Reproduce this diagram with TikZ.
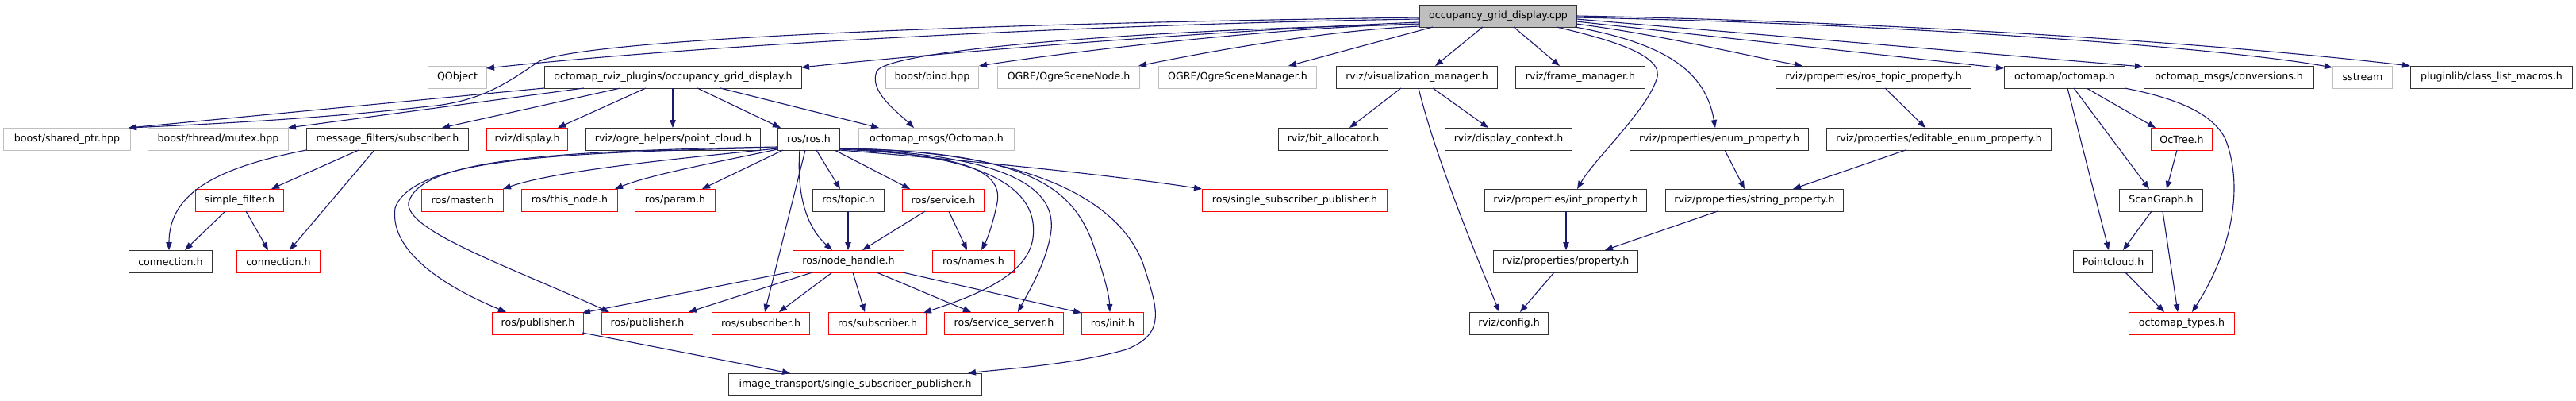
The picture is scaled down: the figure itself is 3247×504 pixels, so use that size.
\documentclass[tikz,border=0pt]{standalone}
\usepackage{fontspec}
\setmainfont{DejaVu Sans}
\usetikzlibrary{arrows.meta,calc}
\definecolor{navy}{HTML}{191970}
\begin{document}
\begin{tikzpicture}[x=1pt,y=-1pt,
  box/.style={draw, rectangle, inner sep=0pt, minimum height=28pt, anchor=north west,
              font=\fontsize{12.6}{15}\selectfont, line width=1pt},
  bk/.style={box, draw=black!80},
  gy/.style={box, draw=black!25},
  rd/.style={box, draw=red},
  rt/.style={box, draw=black!80, fill=black!25},
  e/.style={draw=navy, line width=1.1pt, -{Triangle[length=10pt,width=7.5pt]}}]
\useasboundingbox (0,0) rectangle (3247,504);
% root
\node[rt,minimum width=198pt] (cpp) at (1789,6) {occupancy\_grid\_display.cpp};
% row 2
\node[gy,minimum width=74pt] (qobj) at (539,83) {QObject};
\node[bk,minimum width=324pt] (occ) at (686,83) {octomap\_rviz\_plugins/occupancy\_grid\_display.h};
\node[gy,minimum width=117pt] (bind) at (1116,83) {boost/bind.hpp};
\node[gy,minimum width=179pt] (ogrenode) at (1257,83) {OGRE/OgreSceneNode.h};
\node[gy,minimum width=199pt] (ogremgr) at (1460,83) {OGRE/OgreSceneManager.h};
\node[bk,minimum width=203pt] (vizman) at (1684,83) {rviz/visualization\_manager.h};
\node[bk,minimum width=163pt] (frameman) at (1910,83) {rviz/frame\_manager.h};
\node[bk,minimum width=246pt] (rostopic) at (2238,83) {rviz/properties/ros\_topic\_property.h};
\node[bk,minimum width=152pt] (octomap) at (2526,83) {octomap/octomap.h};
\node[bk,minimum width=214pt] (conv) at (2702,83) {octomap\_msgs/conversions.h};
\node[gy,minimum width=75pt] (sstream) at (2940,83) {sstream};
\node[bk,minimum width=204pt] (pluginlib) at (3038,83) {pluginlib/class\_list\_macros.h};
% row 3
\node[gy,minimum width=160pt] (shptr) at (4,161) {boost/shared\_ptr.hpp};
\node[gy,minimum width=177pt] (mutex) at (186,161) {boost/thread/mutex.hpp};
\node[bk,minimum width=204pt] (mfsub) at (386,161) {message\_filters/subscriber.h};
\node[rd,minimum width=102pt] (display) at (613,161) {rviz/display.h};
\node[bk,minimum width=220pt] (ptcloud) at (738,161) {rviz/ogre\_helpers/point\_cloud.h};
\node[bk,minimum width=78pt] (ros) at (980,161) {ros/ros.h};
\node[gy,minimum width=196pt] (octmsg) at (1082,161) {octomap\_msgs/Octomap.h};
\node[bk,minimum width=138pt] (bitalloc) at (1611,161) {rviz/bit\_allocator.h};
\node[bk,minimum width=160pt] (dispctx) at (1821,161) {rviz/display\_context.h};
\node[bk,minimum width=225pt] (enumprop) at (2054,161) {rviz/properties/enum\_property.h};
\node[bk,minimum width=283pt] (editenum) at (2302,161) {rviz/properties/editable\_enum\_property.h};
\node[rd,minimum width=77pt] (octree) at (2711,161) {OcTree.h};
% row 4
\node[rd,minimum width=111pt] (sfilter) at (246,238) {simple\_filter.h};
\node[rd,minimum width=103pt] (master) at (531,238) {ros/master.h};
\node[rd,minimum width=121pt] (thisnode) at (657,238) {ros/this\_node.h};
\node[rd,minimum width=101pt] (param) at (800,238) {ros/param.h};
\node[bk,minimum width=90pt] (topic) at (1024,238) {ros/topic.h};
\node[rd,minimum width=103pt] (service) at (1137,238) {ros/service.h};
\node[rd,minimum width=233pt] (rosssp) at (1515,238) {ros/single\_subscriber\_publisher.h};
\node[bk,minimum width=204pt] (intprop) at (1871,238) {rviz/properties/int\_property.h};
\node[bk,minimum width=224pt] (strprop) at (2099,238) {rviz/properties/string\_property.h};
\node[bk,minimum width=105pt] (scangraph) at (2671,238) {ScanGraph.h};
% row 5
\node[bk,minimum width=105pt] (connb) at (162,315) {connection.h};
\node[rd,minimum width=105pt] (connr) at (298,315) {connection.h};
\node[rd,minimum width=140pt] (nh) at (999,315) {ros/node\_handle.h};
\node[rd,minimum width=103pt] (names) at (1175,315) {ros/names.h};
\node[bk,minimum width=182pt] (property) at (1882,315) {rviz/properties/property.h};
\node[bk,minimum width=100pt] (pcloud) at (2613,315) {Pointcloud.h};
% row 6
\node[rd,minimum width=115pt] (pub1) at (620,393) {ros/publisher.h};
\node[rd,minimum width=115pt] (pub2) at (758,393) {ros/publisher.h};
\node[rd,minimum width=123pt] (sub1) at (897,393) {ros/subscriber.h};
\node[rd,minimum width=123pt] (sub2) at (1044,393) {ros/subscriber.h};
\node[rd,minimum width=150pt] (svcsrv) at (1190,393) {ros/service\_server.h};
\node[rd,minimum width=78pt] (init) at (1363,393) {ros/init.h};
\node[bk,minimum width=99pt] (config) at (1852,393) {rviz/config.h};
\node[rd,minimum width=133pt] (octtypes) at (2683,393) {octomap\_types.h};
% row 7
\node[bk,minimum width=319pt] (itssp) at (918,470) {image\_transport/single\_subscriber\_publisher.h};

% ---- edges from root
\draw[e] ($(cpp.north west)+(0,18)$) .. controls (1400,30) and (900,55) .. ($(qobj.north west)+(74,3)$);
\draw[e] ($(cpp.north west)+(0,22)$) .. controls (1500,40) and (1150,70) .. ($(occ.north west)+(324,2)$);
\draw[e] ($(cpp.north west)+(0,16)$) .. controls (1200,30) and (740,50) .. (680,77) .. controls (645,100) and (610,128) .. (540,134) .. controls (400,150) and (250,157) .. ($(shptr.north west)+(158,0)$);
\draw[e] ($(cpp.north west)+(0,25)$) .. controls (1500,35) and (1120,60) .. (1105,90) .. controls (1095,115) and (1130,140) .. ($(octmsg.north west)+(70,0)$);
\draw[e] ($(cpp.north west)+(0,24)$) .. controls (1600,35) and (1350,65) .. ($(bind.north west)+(118,0)$);
\draw[e] ($(cpp.north west)+(0,27)$) .. controls (1650,40) and (1500,70) .. ($(ogrenode.north west)+(178,0)$);
\draw[e] ($(cpp.north west)+(17,28)$) -- ($(ogremgr.north west)+(164,0)$);
\draw[e] ($(cpp.north west)+(80,28)$) -- ($(vizman.north west)+(125,0)$);
\draw[e] ($(cpp.north west)+(119,28)$) -- ($(frameman.north west)+(56,0)$);
\draw[e] ($(cpp.north west)+(173,28)$) .. controls (2030,50) and (2100,70) .. (2088,100) .. controls (2075,140) and (2010,200) .. ($(intprop.north west)+(117,0)$);
\draw[e] ($(cpp.north west)+(196,28)$) .. controls (2100,55) and (2150,90) .. ($(enumprop.north west)+(108,0)$);
\draw[e] ($(cpp.north west)+(198,24)$) .. controls (2100,45) and (2200,70) .. ($(rostopic.north west)+(34,0)$);
\draw[e] ($(cpp.north west)+(198,21)$) -- ($(octomap.north west)+(0,3)$);
\draw[e] ($(cpp.north west)+(198,18)$) -- ($(conv.north west)+(-1,1)$);
\draw[e] ($(cpp.north west)+(198,16)$) .. controls (2400,30) and (2800,60) .. ($(sstream.north west)+(0,2)$);
\draw[e] ($(cpp.north west)+(198,14)$) .. controls (2400,28) and (2800,55) .. ($(pluginlib.north west)+(0,0)$);

% ---- edges from occupancy_grid_display.h
\draw[e] ($(occ.north west)+(0,28)$) -- ($(shptr.north west)+(158,0)$);
\draw[e] ($(occ.north west)+(50,28)$) -- ($(mutex.north west)+(177,0)$);
\draw[e] ($(occ.north west)+(96,28)$) -- ($(mfsub.north west)+(171,0)$);
\draw[e] ($(occ.north west)+(128,28)$) -- ($(display.north west)+(90,0)$);
\draw[e] ($(occ.north west)+(162,28)$) -- ($(ptcloud.north west)+(110,0)$);
\draw[e] ($(occ.north west)+(193,28)$) -- ($(ros.north west)+(4,0)$);
\draw[e] ($(occ.north west)+(222,28)$) -- ($(octmsg.north west)+(26,0)$);

% ---- message_filters
\draw[e] ($(mfsub.north west)+(66,28)$) -- ($(sfilter.north west)+(96,0)$);
\draw[e] ($(mfsub.north west)+(86,28)$) -- ($(connr.north west)+(67,0)$);
\draw[e] ($(mfsub.north west)+(0,28)$) .. controls (280,210) and (213,240) .. ($(connb.north west)+(51,0)$);
\draw[e] ($(sfilter.north west)+(38,28)$) -- ($(connb.north west)+(71,0)$);
\draw[e] ($(sfilter.north west)+(64,28)$) -- ($(connr.north west)+(40,0)$);

% ---- ros/ros.h
\draw[e] ($(ros.north west)+(0,26)$) .. controls (850,200) and (700,215) .. ($(master.north west)+(103,0)$);
\draw[e] ($(ros.north west)+(0,27)$) .. controls (900,205) and (820,220) .. ($(thisnode.north west)+(118,0)$);
\draw[e] ($(ros.north west)+(7,28)$) -- ($(param.north west)+(85,0)$);
\draw[e] ($(ros.north west)+(49,28)$) -- ($(topic.north west)+(35,0)$);
\draw[e] ($(ros.north west)+(28,28)$) .. controls (1005,230) and (1010,280) .. ($(nh.north west)+(50,0)$);
\draw[e] ($(ros.north west)+(35,28)$) -- ($(sub1.north west)+(67,0)$);
\draw[e] ($(ros.north west)+(72,28)$) -- ($(service.north west)+(10,0)$);
\draw[e] ($(ros.north west)+(0,25)$) .. controls (700,192) and (520,200) .. (498,262) .. controls (490,320) and (570,365) .. ($(pub1.north west)+(18,0)$);
\draw[e] ($(ros.north west)+(0,24)$) .. controls (700,190) and (530,200) .. (515,255) .. controls (510,290) and (640,335) .. ($(pub2.north west)+(10,0)$);
\draw[e] ($(ros.north west)+(78,27)$) .. controls (1200,195) and (1265,210) .. (1257,255) .. controls (1252,280) and (1245,300) .. ($(names.north west)+(62,0)$);
\draw[e] ($(ros.north west)+(78,26)$) .. controls (1250,195) and (1310,240) .. (1302,300) .. controls (1295,350) and (1220,375) .. ($(sub2.north west)+(120,1)$);
\draw[e] ($(ros.north west)+(78,26)$) .. controls (1280,195) and (1330,240) .. (1325,290) .. controls (1320,330) and (1295,370) .. ($(svcsrv.north west)+(93,0)$);
\draw[e] ($(ros.north west)+(78,26)$) .. controls (1300,190) and (1350,240) .. (1375,300) .. controls (1390,340) and (1398,370) .. ($(init.north west)+(36,0)$);
\draw[e] ($(ros.north west)+(78,26)$) .. controls (1350,190) and (1420,280) .. (1440,330) .. controls (1460,390) and (1470,420) .. (1420,440) .. controls (1350,460) and (1260,465) .. ($(itssp.north west)+(302,0)$);
\draw[e] ($(ros.north west)+(78,28)$) .. controls (1200,200) and (1400,220) .. ($(rosssp.north west)+(0,0)$);

\draw[e] ($(topic.north west)+(45,28)$) -- ($(nh.north west)+(70,0)$);
\draw[e] ($(service.north west)+(29,28)$) -- ($(nh.north west)+(88,0)$);
\draw[e] ($(service.north west)+(59,28)$) -- ($(names.north west)+(44,0)$);

% ---- node_handle
\draw[e] ($(nh.north west)+(0,27)$) -- ($(pub1.north west)+(114,1)$);
\draw[e] ($(nh.north west)+(25,28)$) -- ($(pub2.north west)+(110,0)$);
\draw[e] ($(nh.north west)+(50,28)$) -- ($(sub1.north west)+(85,0)$);
\draw[e] ($(nh.north west)+(76,28)$) -- ($(sub2.north west)+(46,0)$);
\draw[e] ($(nh.north west)+(106,28)$) -- ($(svcsrv.north west)+(34,0)$);
\draw[e] ($(nh.north west)+(139,28)$) -- ($(init.north west)+(0,1)$);
\draw[e] ($(pub1.north west)+(114,26)$) -- ($(itssp.north west)+(78,0)$);

% ---- rviz
\draw[e] ($(vizman.north west)+(82,28)$) -- ($(bitalloc.north west)+(90,0)$);
\draw[e] ($(vizman.north west)+(122,28)$) -- ($(dispctx.north west)+(55,0)$);
\draw[e] ($(vizman.north west)+(104,28)$) .. controls (1810,200) and (1860,320) .. ($(config.north west)+(38,0)$);
\draw[e] ($(intprop.north west)+(103,28)$) -- ($(property.north west)+(92,0)$);
\draw[e] ($(strprop.north west)+(66,28)$) -- ($(property.north west)+(141,0)$);
\draw[e] ($(property.north west)+(77,28)$) -- ($(config.north west)+(64,0)$);
\draw[e] ($(enumprop.north west)+(120,28)$) -- ($(strprop.north west)+(100,0)$);
\draw[e] ($(editenum.north west)+(100,28)$) -- ($(strprop.north west)+(161,0)$);
\draw[e] ($(rostopic.north west)+(138,28)$) -- ($(editenum.north west)+(125,0)$);

% ---- octomap
\draw[e] ($(octomap.north west)+(104,28)$) -- ($(octree.north west)+(6,0)$);
\draw[e] ($(octomap.north west)+(88,28)$) -- ($(scangraph.north west)+(38,0)$);
\draw[e] ($(octomap.north west)+(80,28)$) -- ($(pcloud.north west)+(45,0)$);
\draw[e] ($(octomap.north west)+(152,28)$) .. controls (2750,125) and (2790,145) .. (2805,175) .. controls (2830,240) and (2810,320) .. ($(octtypes.north west)+(80,0)$);
\draw[e] ($(octree.north west)+(33,28)$) -- ($(scangraph.north west)+(60,0)$);
\draw[e] ($(scangraph.north west)+(41,28)$) -- ($(pcloud.north west)+(63,0)$);
\draw[e] ($(scangraph.north west)+(55,28)$) -- ($(octtypes.north west)+(62,0)$);
\draw[e] ($(pcloud.north west)+(66,28)$) -- ($(octtypes.north west)+(45,0)$);
\end{tikzpicture}
\end{document}
